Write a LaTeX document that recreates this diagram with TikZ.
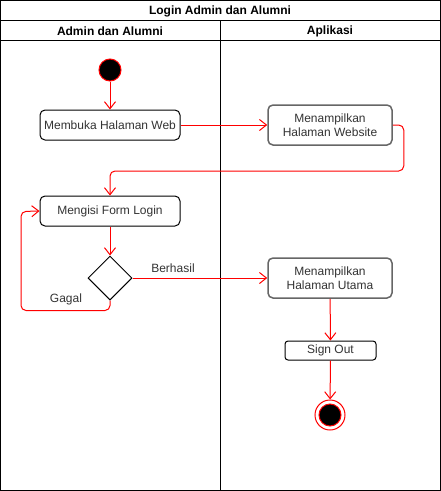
\documentclass[tikz,border=0pt]{standalone}
\usepackage{fontspec}
\setmainfont{Liberation Sans}
\usetikzlibrary{arrows.meta,shapes.geometric,calc}
\definecolor{txt}{HTML}{333333}
\definecolor{graybd}{HTML}{666666}
\tikzset{
  act/.style={draw=black, line width=1pt, rounded corners=5pt, fill=white, text=txt, font=\fontsize{12}{14}\selectfont, align=center, inner sep=0pt},
  actg/.style={act, draw=graybd, line width=1.5pt},
  flow/.style={draw=red, line width=1pt, -{Straight Barb[length=7pt,width=11pt]}, rounded corners=5pt},
  lbl/.style={text=txt, font=\fontsize{12}{14}\selectfont, inner sep=0pt},
  hdr/.style={font=\bfseries\fontsize{12}{14}\selectfont, inner sep=0pt}
}
\begin{document}
\begin{tikzpicture}[x=1pt,y=-1pt]
\useasboundingbox (0,0) rectangle (441,491);
% frame
\draw[line width=1pt] (0.5,0.5) rectangle (440,490);
\draw[line width=1pt] (0.5,20) -- (440,20);
\draw[line width=1pt] (0.5,40) -- (440,40);
\draw[line width=1pt] (220.5,20) -- (220.5,490);
\node[hdr] (title) at (220,11) {Login Admin dan Alumni};
\node[hdr] (lane1) at (110,31) {Admin dan Alumni};
\node[hdr] (lane2) at (330,31) {Aplikasi};
% nodes
\node[circle, draw=red, fill=black, line width=1pt, minimum size=22pt, inner sep=0pt] (start) at (110,70) {};
\node[act, minimum width=140pt, minimum height=30pt] (web) at (110,125) {Membuka Halaman Web};
\node[actg, minimum width=124pt, minimum height=40pt] (show) at (330,125) {Menampilkan\\Halaman Website};
\node[act, minimum width=140pt, minimum height=30pt] (form) at (110,211) {Mengisi Form Login};
\node[diamond, draw=black, line width=1pt, fill=white, minimum width=44pt, minimum height=44pt, inner sep=0pt, aspect=1] (dec) at (110,278) {};
\node[actg, minimum width=124pt, minimum height=40pt] (main) at (330,278) {Menampilkan\\Halaman Utama};
\node[act, minimum width=91pt, minimum height=19pt, rounded corners=3pt] (out) at (330.5,350.5) {Sign Out};
\node[circle, draw=red, fill=white, line width=1pt, minimum size=30pt, inner sep=0pt] (end) at (330,415) {};
\node[circle, draw=red, fill=black, line width=1pt, minimum size=22pt, inner sep=0pt] (endin) at (330,415) {};
% flows
\draw[flow] (start) -- (web);
\draw[flow] (web) -- (show);
\draw[flow] (show.east) -- ++(11,0) -- ++(0,46) -| (form.north);
\draw[flow] (form) -- (dec.north);
\draw[flow] (dec.east) -- (main.west);
\draw[flow] (dec.south) -- ++(0,10) -| ++(-89,-99) -- (form.west);
\draw[flow] (main) -- (out);
\draw[flow] (out) -- (end);
\node[lbl] (lb1) at (173,268) {Berhasil};
\node[lbl] (lb2) at (66,299) {Gagal};
\end{tikzpicture}
\end{document}
